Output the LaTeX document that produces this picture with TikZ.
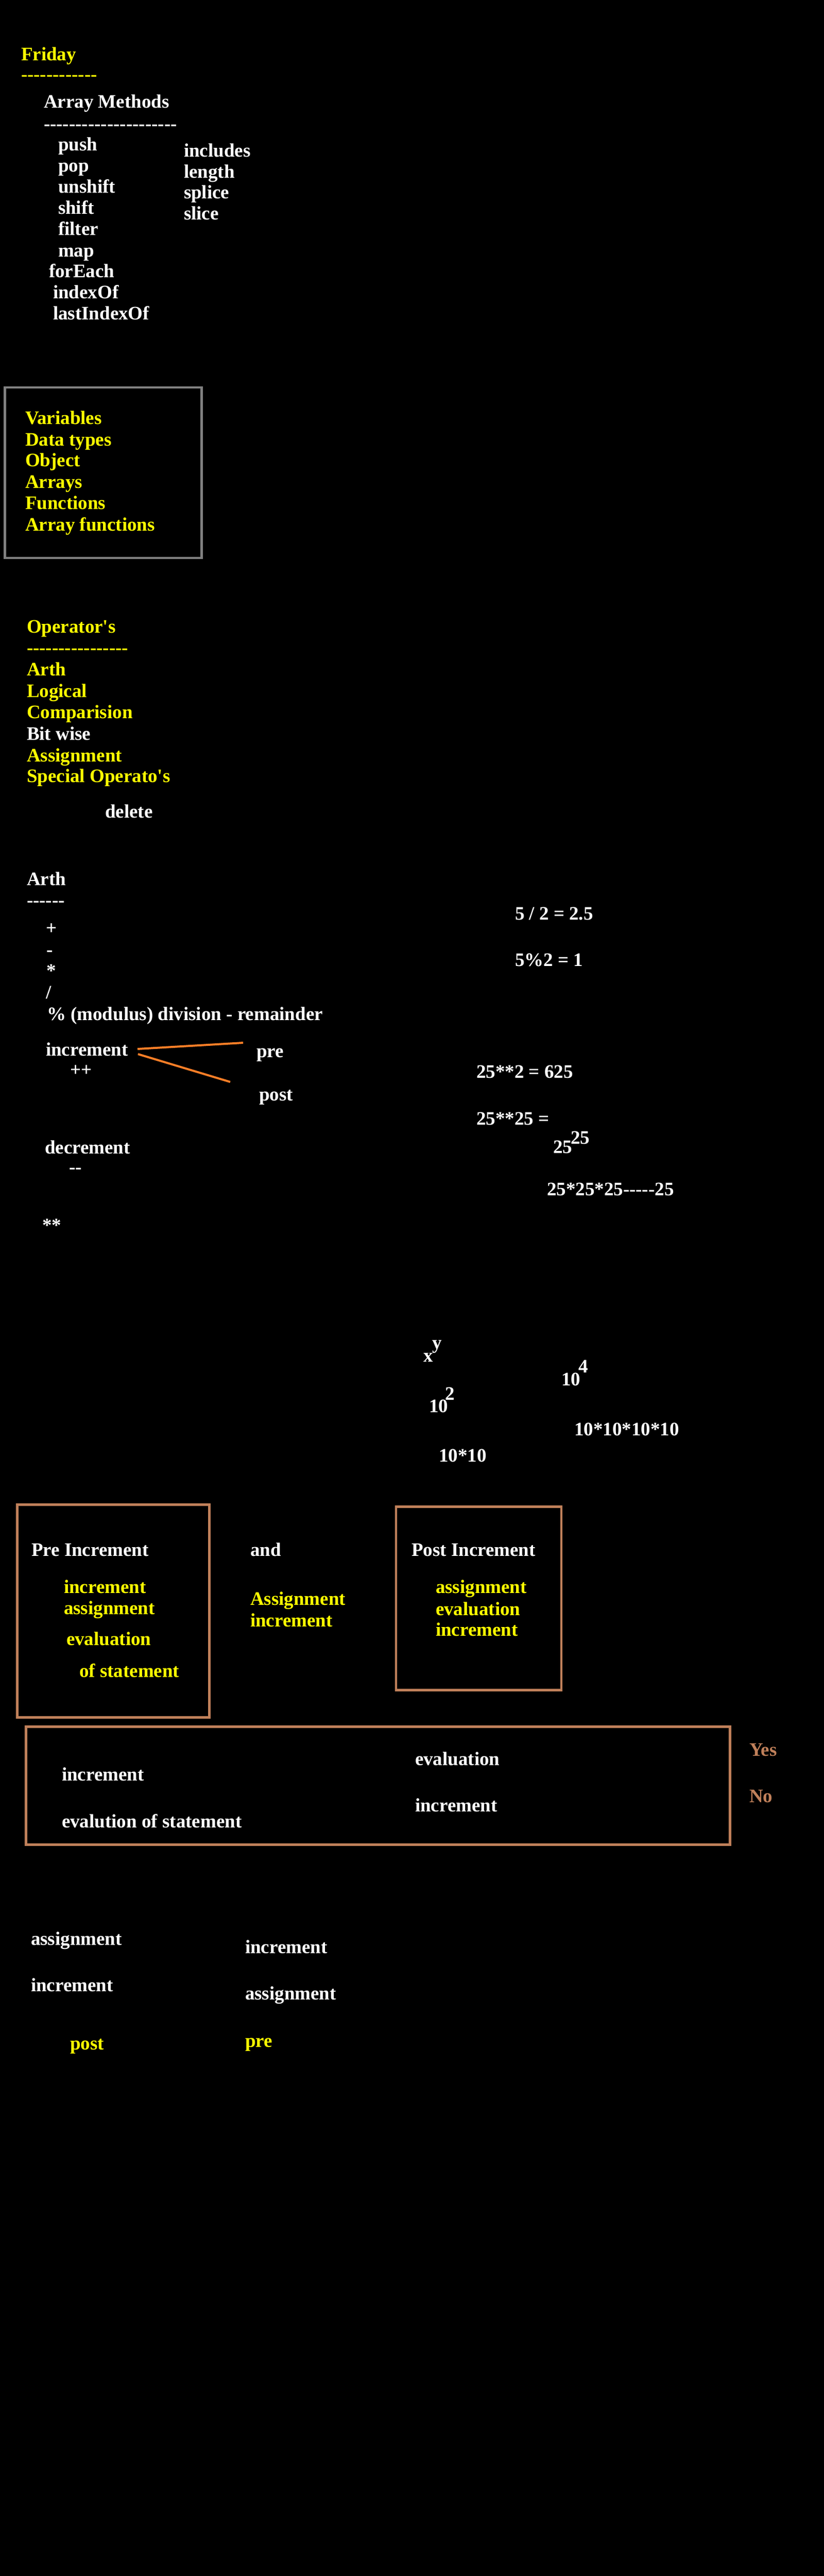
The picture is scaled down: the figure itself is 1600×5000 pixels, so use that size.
\documentclass[tikz,border=0pt]{standalone}
\usepackage{fontspec}
\newfontfamily\tnr{Liberation Serif}
\definecolor{ylw}{RGB}{255,255,0}
\definecolor{brn}{RGB}{192,128,90}
\definecolor{org}{RGB}{255,127,39}
\definecolor{gry}{RGB}{128,128,128}
\begin{document}
\begin{tikzpicture}[x=1pt, y=-1pt,
  txt/.style={anchor=base west, inner sep=0pt, outer sep=0pt, font=\tnr\bfseries\fontsize{37}{44}\selectfont},
  wt/.style={txt, text=white},
  yt/.style={txt, text=ylw},
  bt/.style={txt, text=brn},
  graybox/.style={draw=gry, line width=4.6pt},
  brnbox/.style={draw=brn, line width=4.8pt},
  orgline/.style={draw=org, line width=4pt}]
\fill[black] (0,0) rectangle (1600,5000);
\useasboundingbox (0,0) rectangle (1600,5000);

% ---- Friday / Array Methods
\node[yt] (fri) at (41,117) {Friday};
\node[yt] (fridash) at (41,156) {------------};
\node[wt] (am) at (85,209) {Array Methods};
\node[wt] (amdash) at (85,252) {---------------------};
\node[wt] (push) at (113,292) {push};
\node[wt] (pop) at (113,333) {pop};
\node[wt] (unshift) at (113,374) {unshift};
\node[wt] (shift) at (113,415) {shift};
\node[wt] (filter) at (113,456) {filter};
\node[wt] (map) at (113,498) {map};
\node[wt] (foreach) at (95,538) {forEach};
\node[wt] (indexof) at (103,579) {indexOf};
\node[wt] (lastindexof) at (103,620) {lastIndexOf};
\node[wt] (includes) at (357,304) {includes};
\node[wt] (length) at (357,345) {length};
\node[wt] (splice) at (357,385) {splice};
\node[wt] (slice) at (357,426) {slice};

% ---- topics box
\draw[graybox] (9.3,752) rectangle (391.7,1083);
\node[yt] (vars) at (49,823) {Variables};
\node[yt] (dtypes) at (49,865) {Data types};
\node[yt] (obj) at (49,905) {Object};
\node[yt] (arrs) at (49,947) {Arrays};
\node[yt] (funcs) at (49,988) {Functions};
\node[yt] (afuncs) at (49,1030) {Array functions};

% ---- Operators
\node[yt] (ops) at (52,1228) {Operator's};
\node[yt] (opsdash) at (52,1269) {----------------};
\node[yt] (oarth) at (52,1311) {Arth};
\node[yt] (ological) at (52,1353) {Logical};
\node[yt] (ocomp) at (52,1394) {Comparision};
\node[wt] (obit) at (52,1436) {Bit wise};
\node[yt] (oassign) at (52,1478) {Assignment};
\node[yt] (ospecial) at (52,1518) {Special Operato's};
\node[wt] (delete) at (204,1587) {delete};

% ---- Arth
\node[wt] (arth) at (52,1718) {Arth};
\node[wt] (arthdash) at (52,1759) {------};
\node[wt] (plus) at (89,1813) {+};
\node[wt] (minus) at (90,1855) {-};
\node[wt] (mult) at (90,1896) {*};
\node[wt] (divi) at (89,1938) {/};
\node[wt] (modl) at (91,1980) {\% (modulus) division - remainder};
\node[wt] (incr) at (89,2049) {increment};
\node[wt] (pp) at (136,2088) {++};
\node[wt] (pre) at (498,2052) {pre};
\node[wt] (post) at (503,2136) {post};
\coordinate (l1a) at (267,2036);
\coordinate (l1b) at (472,2024);
\coordinate (l2a) at (268,2046);
\coordinate (l2b) at (447,2100);
\draw[orgline] (l1a) -- (l1b);
\draw[orgline] (l2a) -- (l2b);
\node[wt] (decr) at (87,2239) {decrement};
\node[wt] (mm) at (134,2277) {--};
\node[wt] (pow) at (82,2390) {**};

% ---- right-hand arithmetic
\node[wt] (e1) at (1000,1785) {5 / 2 = 2.5};
\node[wt] (e2) at (1000,1875) {5\%2 = 1};
\node[wt] (e3) at (925,2092) {25**2 = 625};
\node[wt] (e4) at (925,2183) {25**25 =};
\node[wt] (e5) at (1074,2238) {25};
\node[wt] (e5s) at (1108,2220) {25};
\node[wt] (e6) at (1062,2320) {25*25*25-----25};

% ---- powers
\node[wt] (px) at (822,2643) {x};
\node[wt] (py) at (839,2618) {y};
\node[wt] (p10a) at (833,2741) {10};
\node[wt] (p2) at (864,2717) {2};
\node[wt] (p10x10) at (852,2837) {10*10};
\node[wt] (p10b) at (1090,2689) {10};
\node[wt] (p4) at (1123,2664) {4};
\node[wt] (p4x) at (1115,2786) {10*10*10*10};

% ---- pre / post increment boxes
\draw[brnbox] (33.5,2920.5) rectangle (406.5,3333.5);
\node[wt] (preinc) at (61,3020) {Pre Increment};
\node[yt] (pri1) at (124,3092) {increment};
\node[yt] (pri2) at (124,3133) {assignment};
\node[yt] (pri3) at (129,3193) {evaluation};
\node[yt] (pri4) at (154,3255) {of statement};
\node[wt] (and) at (486,3020) {and};
\node[yt] (and1) at (486,3115) {Assignment};
\node[yt] (and2) at (486,3157) {increment};
\draw[brnbox] (769,2924.5) rectangle (1090,3280.5);
\node[wt] (postinc) at (799,3020) {Post Increment};
\node[yt] (poi1) at (846,3092) {assignment};
\node[yt] (poi2) at (846,3135) {evaluation};
\node[yt] (poi3) at (846,3175) {increment};

% ---- wide box
\draw[brnbox] (50.5,3351.5) rectangle (1417.5,3580.5);
\node[wt] (w1) at (120,3456) {increment};
\node[wt] (w2) at (120,3547) {evalution of statement};
\node[wt] (w3) at (806,3426) {evaluation};
\node[wt] (w4) at (806,3516) {increment};
\node[bt] (yes) at (1455,3408) {Yes};
\node[bt] (no) at (1455,3498) {No};

% ---- bottom
\node[wt] (b1) at (60,3775) {assignment};
\node[wt] (b2) at (60,3865) {increment};
\node[yt] (b3) at (136,3978) {post};
\node[wt] (b4) at (476,3791) {increment};
\node[wt] (b5) at (476,3881) {assignment};
\node[yt] (b6) at (476,3973) {pre};
\end{tikzpicture}
\end{document}
